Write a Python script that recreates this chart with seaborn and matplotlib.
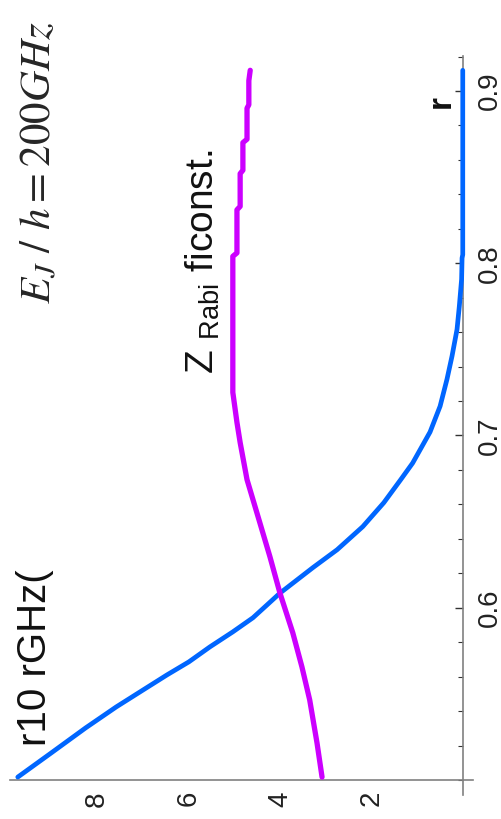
import numpy as np
import pandas as pd
import seaborn as sns
import matplotlib
matplotlib.use("Agg")
import matplotlib.pyplot as plt
from matplotlib.ticker import MultipleLocator, FixedLocator

# ---- data (r on vertical axis, frequency in GHz on horizontal axis, chart rotated) ----
r_omega10 = [0.5017, 0.5157, 0.5302, 0.5424, 0.5523, 0.5610, 0.5686, 0.5773, 0.5860,
             0.5942, 0.6017, 0.6085, 0.6233, 0.6337, 0.6471, 0.6610, 0.6744, 0.6840,
             0.7020, 0.7170, 0.7326, 0.7460, 0.7616, 0.7750, 0.7907, 0.8030, 0.8050,
             0.9120]
f_omega10 = [9.73, 9.00, 8.25, 7.58, 6.99, 6.47, 5.99, 5.53, 5.03,
             4.59, 4.28, 4.00, 3.28, 2.75, 2.19, 1.73, 1.36, 1.10,
             0.72, 0.50, 0.35, 0.24, 0.13, 0.08, 0.03, 0.02, 0.005,
             0.005]

r_rabi = [0.5017, 0.5215, 0.5465, 0.5657, 0.5855, 0.6085, 0.6297, 0.6494, 0.6744,
          0.6959, 0.7076, 0.7250, 0.8040, 0.8060, 0.8310, 0.8330, 0.8520, 0.8540,
          0.8700, 0.8720, 0.8900, 0.8920, 0.9060, 0.9120]
f_rabi = [3.08, 3.19, 3.35, 3.52, 3.72, 4.00, 4.22, 4.44, 4.72,
          4.87, 4.94, 5.03, 5.03, 4.94, 4.94, 4.87, 4.87, 4.81,
          4.81, 4.72, 4.72, 4.68, 4.68, 4.65]

freq_major = [2, 4, 6, 8]
freq_labels = ["2", "4", "6", "8"]
r_major = [0.6, 0.7, 0.8, 0.9]
r_labels = ["0.6", "0.7", "0.8", "0.9"]

BLUE = "#0066ff"
MAGENTA = "#cc00ff"
AXIS = "#808080"

sns.set_style("white")
plt.rcParams["font.family"] = ["Liberation Sans", "DejaVu Sans"]
plt.rcParams["mathtext.fontset"] = "custom"
plt.rcParams["mathtext.rm"] = "Liberation Sans"
plt.rcParams["mathtext.it"] = "Liberation Sans:italic"

W, H = 502, 819
fig = plt.figure(figsize=(W / 100, H / 100), dpi=100)
ax = fig.add_axes([10 / W, 1 - 795 / H, 463 / W, (795 - 56) / H])

df1 = pd.DataFrame({"f": f_omega10, "r": r_omega10})
df2 = pd.DataFrame({"f": f_rabi, "r": r_rabi})
sns.lineplot(data=df1, x="f", y="r", sort=False, estimator=None, ax=ax,
             color=BLUE, lw=3.4, solid_capstyle="round", solid_joinstyle="round", zorder=3)
sns.lineplot(data=df2, x="f", y="r", sort=False, estimator=None, ax=ax,
             color=MAGENTA, lw=3.8, solid_capstyle="round", solid_joinstyle="round", zorder=3)

ax.set_xlim(9.90, -0.219)
ax.set_ylim(0.4913, 0.9203)
ax.set_xlabel("")
ax.set_ylabel("")

for s in ["top", "left"]:
    ax.spines[s].set_visible(False)
ax.spines["right"].set_position(("data", 0.0))
ax.spines["bottom"].set_position(("data", 0.5))
for s in ["right", "bottom"]:
    ax.spines[s].set_color(AXIS)
    ax.spines[s].set_linewidth(1.2)

ax.yaxis.tick_right()
ax.xaxis.set_major_locator(FixedLocator(freq_major))
ax.set_xticklabels(freq_labels)
ax.xaxis.set_minor_locator(MultipleLocator(0.5))
ax.yaxis.set_major_locator(FixedLocator(r_major))
ax.set_yticklabels(r_labels)
ax.yaxis.set_minor_locator(MultipleLocator(0.02))

ax.tick_params(axis="x", which="major", direction="in", length=6, width=1.0,
               color="#333333", labelsize=20, pad=8, labelcolor="#222222", labelrotation=90)
ax.tick_params(axis="x", which="minor", direction="in", length=3.5, width=0.8, color="#333333")
ax.tick_params(axis="y", which="major", direction="in", length=6, width=1.0,
               color="#333333", labelsize=20, pad=10, labelcolor="#222222",
               right=True, left=False, labelright=True, labelleft=False)
ax.tick_params(axis="y", which="minor", direction="in", length=3.5, width=0.8,
               color="#333333", right=True, left=False)
for lab in ax.get_yticklabels():
    lab.set_rotation(90)
    lab.set_va("center")

# texts (rotated with the chart)
fig.text(39 / W, 1 - 163 / H, r"$E_J\ /\ h = 200GHz$", rotation=90,
         ha="center", va="center", fontsize=31, math_fontfamily="stix")
fig.text(35 / W, 1 - 658 / H, "r10 rGHz(", rotation=90,
         ha="center", va="center", fontsize=29, color="#111111")
fig.text(203 / W, 1 - 262 / H, r"Z $_{\rm Rabi}$ ficonst.", rotation=90,
         ha="center", va="center", fontsize=28, color="#111111")
fig.text(441 / W, 1 - 102 / H, "r", rotation=90, ha="center", va="center",
         fontsize=24, fontweight="bold", color="#111111")

fig.savefig("out.png", dpi=100)
